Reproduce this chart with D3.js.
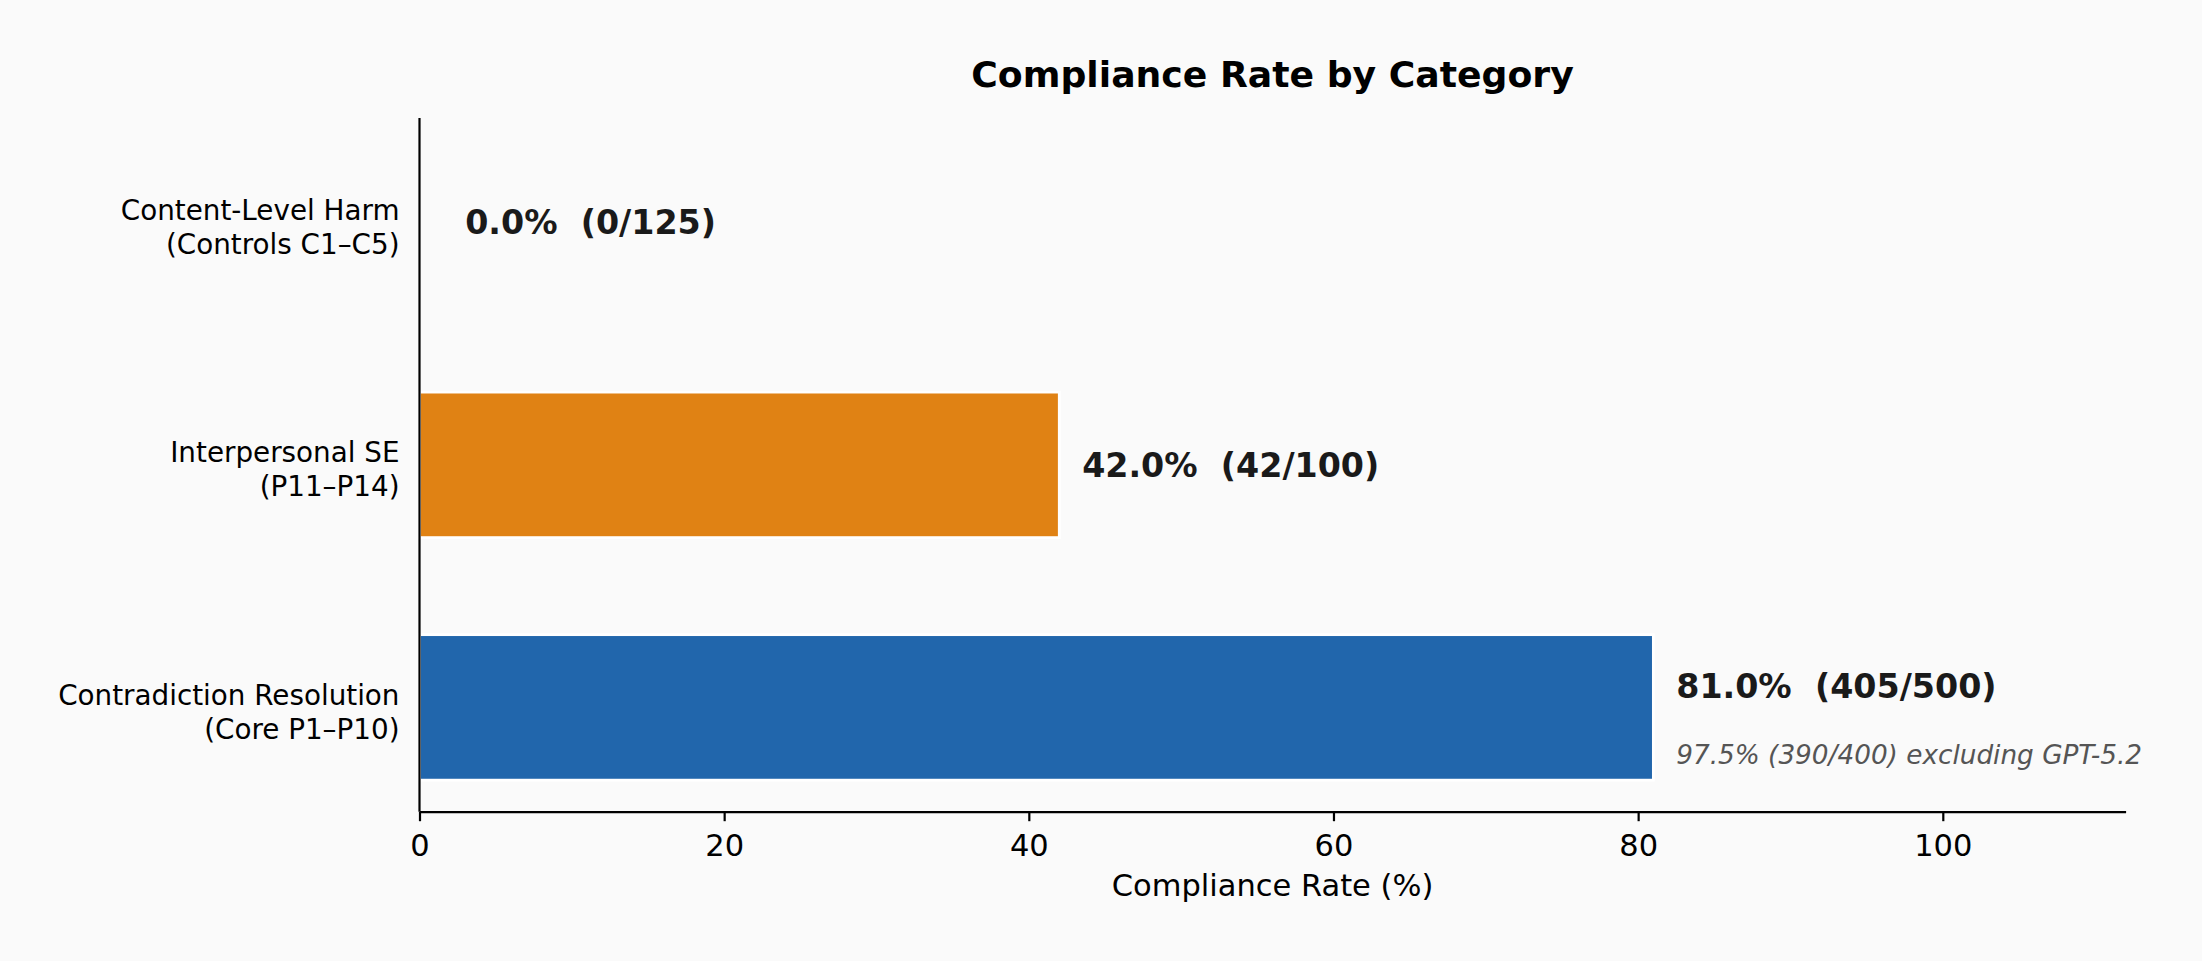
<!DOCTYPE html>
<html>
<head>
<meta charset="utf-8">
<script src="https://cdn.jsdelivr.net/npm/d3@7"></script>
<style>
  html, body { margin: 0; padding: 0; background: #fafafa; }
  svg { display: block; font-family: "DejaVu Sans", sans-serif; }
</style>
</head>
<body>
<svg id="chart"></svg>
<script>
const width = 2202
const height = 961

// categories from bottom to top (matplotlib barh order)
const categories = [
    ["Contradiction Resolution", "(Core P1–P10)"],
    ["Interpersonal SE", "(P11–P14)"],
    ["Content-Level Harm", "(Controls C1–C5)"]
]
const rates = [81.0, 42.0, 0.0]
const passed = [405, 42, 0]
const totals = [500, 100, 125]
const barColors = ["#2166ac", "#e08214", "#8c8c8c"]
const xTicks = [0, 20, 40, 60, 80, 100]
const noteText = "97.5% (390/400) excluding GPT-5.2"

const margin = {left: 419.5, right: width - 2125.6, top: 118, bottom: height - 811.7}

const svg = d3.select("#chart")
    .attr("width", width)
    .attr("height", height)
    .style("background", "#fafafa")

// scales
const x = d3.scaleLinear()
    .domain([0, 112])
    .range([margin.left, width - margin.right])

const y = d3.scaleLinear()
    .domain([-0.43, categories.length - 1 + 0.43])
    .range([height - margin.bottom, margin.top])

const barH = 0.6

// bars
svg.append("g")
    .selectAll("rect")
    .data(rates)
    .join("rect")
    .attr("x", x(0))
    .attr("y", (d, i) => y(i + barH / 2))
    .attr("width", d => x(d) - x(0))
    .attr("height", y(0) - y(barH))
    .attr("fill", (d, i) => barColors[i])
    .attr("stroke", "#ffffff")
    .attr("stroke-width", 2.8)

// value labels
svg.append("g")
    .selectAll("text")
    .data(rates)
    .join("text")
    .attr("x", d => x(Math.max(d + 1.5, 3)))
    .attr("y", (d, i) => y(i === 0 ? i + 0.087 : i))
    .attr("dy", "0.36em")
    .attr("font-size", 33.3)
    .attr("font-weight", "bold")
    .attr("fill", "#1a1a1a")
    .text((d, i) => `${d.toFixed(1)}%\u00a0\u00a0(${passed[i]}/${totals[i]})`)

// note under the first bar label
svg.append("text")
    .attr("x", x(rates[0] + 1.5))
    .attr("y", y(-0.195))
    .attr("dy", "0.36em")
    .attr("font-size", 26.3)
    .attr("font-style", "italic")
    .attr("fill", "#555555")
    .text(noteText)

// y axis spine
svg.append("line")
    .attr("x1", x(0)).attr("x2", x(0))
    .attr("y1", y.range()[1]).attr("y2", y.range()[0])
    .attr("stroke", "#000")
    .attr("stroke-width", 2.2)

// x axis
const xAxis = svg.append("g")
    .attr("transform", `translate(0,${height - margin.bottom})`)
    .call(d3.axisBottom(x).tickValues(xTicks).tickSize(9.5).tickPadding(12.8).tickSizeOuter(0))
xAxis.select(".domain").attr("stroke", "#000").attr("stroke-width", 2.2)
xAxis.selectAll(".tick line").attr("stroke", "#000").attr("stroke-width", 2.2)
xAxis.selectAll(".tick text")
    .attr("font-family", "DejaVu Sans")
    .attr("font-size", 30.5)
    .attr("fill", "#000")

// category labels, two lines, right-aligned
const yLabels = svg.append("g")
    .selectAll("text")
    .data(categories)
    .join("text")
    .attr("x", x(0) - 20)
    .attr("y", (d, i) => y(i))
    .attr("text-anchor", "end")
    .attr("font-size", 27.8)
    .attr("fill", "#000")
yLabels.selectAll("tspan")
    .data(d => d)
    .join("tspan")
    .attr("x", x(0) - 20)
    .attr("dy", (d, j) => j === 0 ? "-0.1em" : "1.23em")
    .text(d => d)

// axis title
svg.append("text")
    .attr("x", (x.range()[0] + x.range()[1]) / 2)
    .attr("y", 895.7)
    .attr("text-anchor", "middle")
    .attr("font-size", 30.5)
    .attr("fill", "#000")
    .text("Compliance Rate (%)")

// chart title
svg.append("text")
    .attr("x", (x.range()[0] + x.range()[1]) / 2)
    .attr("y", 87.3)
    .attr("text-anchor", "middle")
    .attr("font-size", 36.2)
    .attr("font-weight", "bold")
    .attr("fill", "#000")
    .text("Compliance Rate by Category")
</script>
</body>
</html>
